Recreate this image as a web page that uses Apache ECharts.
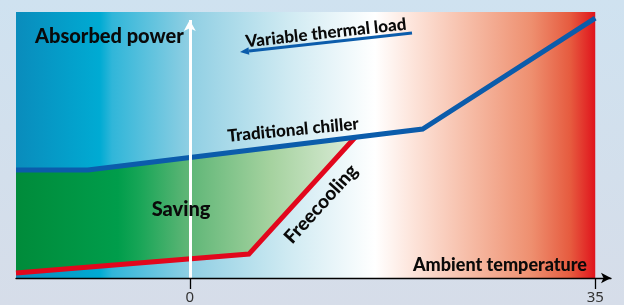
<!DOCTYPE html>
<html><head><meta charset="utf-8">
<script src="https://cdn.jsdelivr.net/npm/echarts@6/dist/echarts.min.js"></script>
<style>html,body{margin:0;padding:0;background:#d3e2ee;} #c{width:624px;height:305px;}</style>
</head><body><div id="c"></div>
<script>
// x: ambient temperature, y: absorbed power (relative scale 0..100)
const xTicks = [0, 35];
const xRange = [-15, 35];
const yRange = [0, 100];
const chillerX = [-15, -8.8, 20.1, 35];
const chillerY = [40.6, 40.6, 56.0, 97.7];
const freeX = [-15, 5.1, 14.3];
const freeY = [1.9, 9.0, 53.0];
const powerAxisX = [0, 0];
const powerAxisY = [0, 97];
const labels = {
  power: 'Absorbed power',
  load: 'Variable thermal load',
  chiller: 'Traditional chiller',
  saving: 'Saving',
  free: 'Freecooling',
  temp: 'Ambient temperature'
};

const chart = echarts.init(document.getElementById('c'), null, {renderer: 'canvas'});
const LG = echarts.graphic.LinearGradient;
const F = 'Lato, "Noto Sans", sans-serif';

const chillerData = chillerX.map((x, i) => [x, chillerY[i]]);
const freeData = freeX.map((x, i) => [x, freeY[i]]);

const option = {
  animation: false,
  backgroundColor: new LG(0, 0, 0, 1, [
    {offset: 0, color: '#cfe2f0'},
    {offset: 1, color: '#d6dde9'}
  ]),
  grid: {left: 16, top: 12, right: 13, bottom: 27, containLabel: false},
  xAxis: {
    type: 'value', min: xRange[0], max: 36.36, z: 10,
    splitLine: {show: false},
    axisLine: {show: true, onZero: false, symbol: ['none', 'arrow'], symbolSize: [8, 10],
      lineStyle: {color: '#000', width: 1.3}},
    axisTick: {show: true, customValues: xTicks, length: 11, lineStyle: {color: '#000', width: 1.3}},
    axisLabel: {show: true, customValues: xTicks, margin: 12, color: '#333',
      fontFamily: '"Noto Sans", sans-serif', fontSize: 15}
  },
  yAxis: {
    type: 'value', min: yRange[0], max: yRange[1],
    splitLine: {show: false}, axisLine: {show: false}, axisTick: {show: false}, axisLabel: {show: false}
  },
  series: [
    {
      type: 'line', data: [], z: 0, silent: true,
      markArea: {
        silent: true,
        itemStyle: {
          color: new LG(0, 0, 1, 0, [
            {offset: 0, color: '#0a8cbc'},
            {offset: 0.145, color: '#00abd3'},
            {offset: 0.166, color: '#30b6d9'},
            {offset: 0.30, color: '#90cfe3'},
            {offset: 0.47, color: '#cfeaf2'},
            {offset: 0.62, color: '#ffffff'},
            {offset: 0.68, color: '#fde6dd'},
            {offset: 0.785, color: '#f6bba5'},
            {offset: 0.89, color: '#ee8f6f'},
            {offset: 0.957, color: '#e65b3f'},
            {offset: 1, color: '#e0141c'}
          ])
        },
        data: [[{xAxis: xRange[0], yAxis: yRange[0]}, {xAxis: xRange[1], yAxis: yRange[1]}]]
      }
    },
    {
      type: 'custom', z: 1, silent: true,
      data: [[0, 0]],
      renderItem: function (params, api) {
        const pts = [];
        const endX = freeX[freeX.length - 1];
        chillerX.forEach((x, i) => { if (x < endX) pts.push(api.coord([x, chillerY[i]])); });
        for (let i = freeX.length - 1; i >= 0; i--) pts.push(api.coord([freeX[i], freeY[i]]));
        return {
          type: 'polygon', shape: {points: pts},
          style: {fill: new LG(0, 0, 1, 0, [
            {offset: 0, color: '#008b3a'},
            {offset: 0.3, color: '#009d4b'},
            {offset: 0.36, color: '#16a556'},
            {offset: 0.5, color: '#5cb575'},
            {offset: 0.75, color: '#a5d29f'},
            {offset: 1, color: '#dcecd8'}
          ])}
        };
      }
    },
    {
      type: 'line', z: 3, data: freeData, showSymbol: false, silent: true,
      lineStyle: {color: '#e2071c', width: 5, join: 'miter', cap: 'butt'}
    },
    {
      type: 'line', z: 4, data: chillerData, showSymbol: false, silent: true,
      lineStyle: {color: '#0b5cab', width: 5, join: 'miter', cap: 'butt'}
    },
    {
      type: 'line', z: 5, data: [], silent: true,
      markLine: {
        silent: true, z: 6,
        symbol: ['none', 'arrow'], symbolSize: [9, 11],
        label: {show: false},
        lineStyle: {color: '#ffffff', width: 3, type: 'solid'},
        data: [[{coord: [powerAxisX[0], powerAxisY[0]]}, {coord: [powerAxisX[1], powerAxisY[1]]}]]
      }
    }
  ],
  graphic: [
    {type: 'text', x: 35, y: 37, z: 20, style: {text: labels.power, font: '900 20px ' + F, fill: '#0a0a0a', textAlign: 'left', textVerticalAlign: 'middle'}},
    {type: 'text', x: 326, y: 33, rotation: 0.11, z: 20, style: {text: labels.load, font: '900 17px ' + F, fill: '#0a0a0a', textAlign: 'center', textVerticalAlign: 'middle'}},
    {type: 'line', z: 20, shape: {x1: 412, y1: 33, x2: 249, y2: 51}, style: {stroke: '#0b5cab', lineWidth: 3}},
    {type: 'polygon', z: 20, shape: {points: [[240, 52], [249.3, 54.8], [248.5, 47.3]]}, style: {fill: '#0b5cab'}},
    {type: 'text', x: 293, y: 130, rotation: 0.095, z: 20, style: {text: labels.chiller, font: '900 17px ' + F, fill: '#0a0a0a', textAlign: 'center', textVerticalAlign: 'middle'}},
    {type: 'text', x: 181, y: 210, z: 20, style: {text: labels.saving, font: '900 20px ' + F, fill: '#0a0a0a', textAlign: 'center', textVerticalAlign: 'middle'}},
    {type: 'text', x: 321, y: 204, rotation: 0.834, z: 20, style: {text: labels.free, font: '900 19px ' + F, fill: '#0a0a0a', textAlign: 'center', textVerticalAlign: 'middle'}},
    {type: 'text', x: 587, y: 265, z: 20, style: {text: labels.temp, font: '900 18px ' + F, fill: '#0a0a0a', textAlign: 'right', textVerticalAlign: 'middle'}}
  ]
};
chart.setOption(option);
</script>
</body></html>
